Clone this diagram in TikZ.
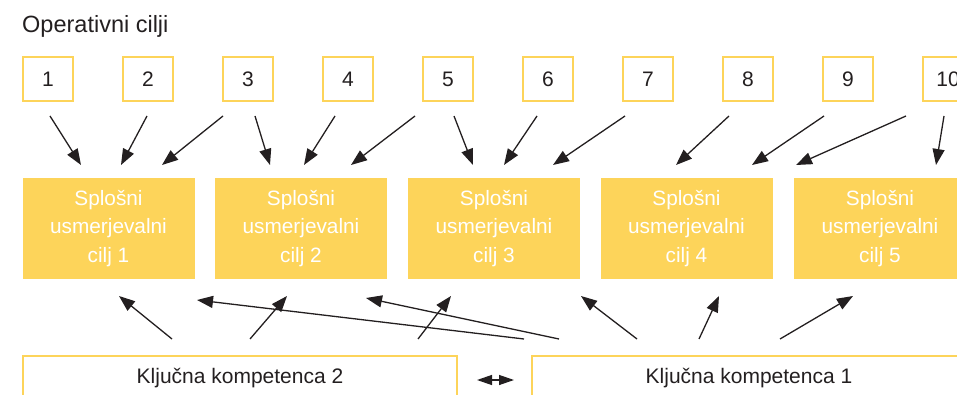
\documentclass[tikz,border=0pt]{standalone}
\usepackage{fontspec}
\setmainfont{Liberation Sans}
\usetikzlibrary{arrows.meta}
\definecolor{ylw}{HTML}{FDD45A}
\definecolor{ink}{HTML}{231F20}
\begin{document}
\begin{tikzpicture}[x=1pt,y=-1pt,
  numbox/.style={draw=ylw,line width=1.5pt,minimum width=50pt,minimum height=44pt,inner sep=0pt,text=ink,font=\fontsize{21}{24}\selectfont},
  goalbox/.style={fill=ylw,minimum width=172pt,minimum height=100pt,inner sep=0pt,text=white,align=center,font=\fontsize{20.8}{28.6}\selectfont},
  kbox/.style={draw=ylw,line width=1.5pt,minimum height=64pt,inner sep=0pt},
  ktext/.style={text=ink,font=\fontsize{21}{24}\selectfont,anchor=base,inner sep=0pt},
  arr/.style={draw=ink,line width=1.3pt,-{Triangle[length=16pt,width=12pt]}},
  darr/.style={draw=ink,line width=1.3pt,{Triangle[length=15pt,width=10pt]}-{Triangle[length=15pt,width=10pt]}}]
\useasboundingbox (0,0) rectangle (957,395);
\clip (0,0) rectangle (957,395);
\node[anchor=base west,inner sep=0pt,text=ink,font=\fontsize{23.5}{28}\selectfont] (title) at (22,33) {Operativni cilji};
\foreach \i in {1,...,10}{
  \node[numbox] (n\i) at ({48+100*(\i-1)},79) {\i};
}
\node[goalbox] (g1) at (108.5,228.5) {Splošni\\usmerjevalni\\cilj 1};
\node[goalbox] (g2) at (301,228.5) {Splošni\\usmerjevalni\\cilj 2};
\node[goalbox] (g3) at (494,228.5) {Splošni\\usmerjevalni\\cilj 3};
\node[goalbox] (g4) at (686.5,228.5) {Splošni\\usmerjevalni\\cilj 4};
\node[goalbox] (g5) at (880,228.5) {Splošni\\usmerjevalni\\cilj 5};
\node[kbox,minimum width=434pt] (k2) at (240,388) {};
\node[kbox,minimum width=434pt] (k1) at (749,388) {};
\node[ktext] (k2t) at (240,383) {Ključna kompetenca 2};
\node[ktext] (k1t) at (749,383) {Ključna kompetenca 1};
% top arrows
\foreach \n/\sx/\ex in {1/50/81,2/147/121,3/223/162,4/255/270,5/335/304,6/415/351,7/454/473,8/537/504,9/625/553,10/729/676,11/824/752,12/906/796,13/944/936}{
  \coordinate (ts\n) at (\sx,116);
  \coordinate (te\n) at (\ex,165);
  \draw[arr] (ts\n) -- (te\n);
}
% bottom arrows
\foreach \n/\sx/\ex/\ey in {1/172/119/296,2/250/287/296,3/524/197/300,4/559/366/298,5/418/451/296,6/637/581/296,7/699/719/296,8/780/853/296}{
  \coordinate (bs\n) at (\sx,339);
  \coordinate (be\n) at (\ex,\ey);
  \draw[arr] (bs\n) -- (be\n);
}
\coordinate (dl) at (477,380);
\coordinate (dr) at (514,380);
\draw[darr] (dl) -- (dr);
\end{tikzpicture}
\end{document}
